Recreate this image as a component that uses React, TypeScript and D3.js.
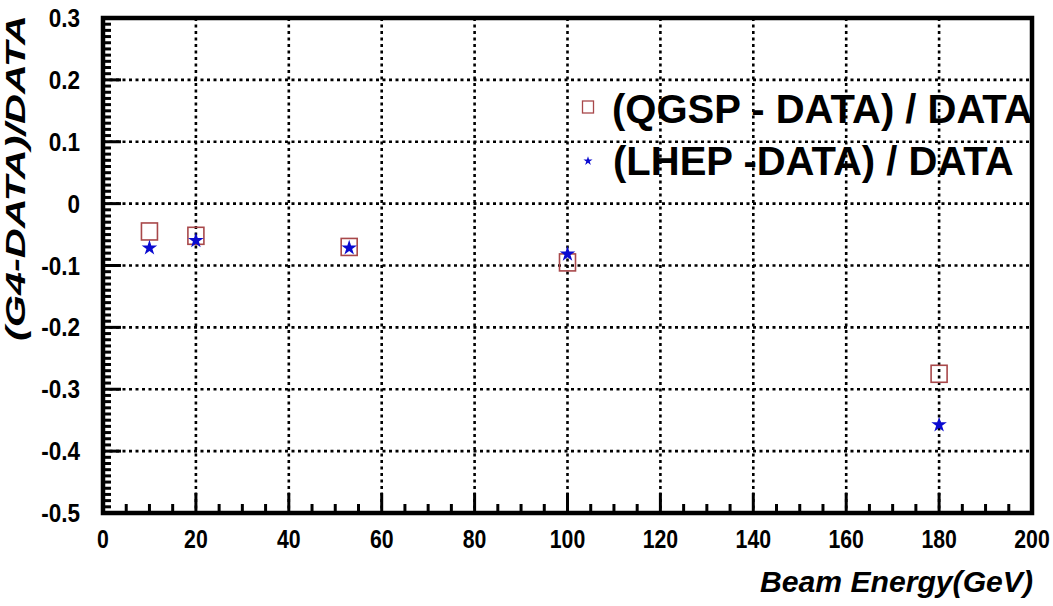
import React from "react";
import * as d3 from "d3";

const energies = [10, 20, 53, 100, 180];
const qgspValues = [-0.045, -0.052, -0.07, -0.095, -0.275];
const lhepValues = [-0.07, -0.058, -0.07, -0.08, -0.356];
const xTicks = [0, 20, 40, 60, 80, 100, 120, 140, 160, 180, 200];
const yTicks = [-0.5, -0.4, -0.3, -0.2, -0.1, 0, 0.1, 0.2, 0.3];
const legendLabels = ["(QGSP - DATA) / DATA", "(LHEP -DATA) / DATA"];
const xTitle = "Beam Energy(GeV)";
const yTitle = "(G4-DATA)/DATA";

const W = 1053;
const H = 606;
const FONT = "'Liberation Sans', Arial, Helvetica, sans-serif";
const SQ_COLOR = "#a8484a";
const STAR_COLOR = "#0a0ad0";

export default function App() {
  const left = 103, right = 1032, top = 18, bottom = 513;
  const x = d3.scaleLinear().domain([0, 200]).range([left, right]);
  const y = d3.scaleLinear().domain([-0.5, 0.3]).range([bottom, top]);

  const xMinor = d3.range(0, 200.001, 5);
  const yMinor = d3.range(-0.5, 0.3001, 0.01);
  const isMajorX = (v: number) => Math.abs(v / 20 - Math.round(v / 20)) < 1e-6;
  const isMajorY = (v: number) => Math.abs(v / 0.1 - Math.round(v / 0.1)) < 1e-6;

  const star = d3.symbol().type(d3.symbolStar).size(75)();
  const starLegend = d3.symbol().type(d3.symbolStar).size(26)();
  const fmtY = (v: number) => (Math.abs(v) < 1e-9 ? "0" : v.toFixed(1));

  return (
    <svg
      width={W}
      height={H}
      style={{ position: "absolute", left: 0, top: 0, background: "#fff" }}
      fontFamily={FONT}
    >
      <rect x={0} y={0} width={W} height={H} fill="#fff" />
      {/* grid */}
      <g stroke="#000" strokeWidth={2.6} strokeDasharray="3 3.5">
        {xTicks.filter((v) => v > 0 && v < 200).map((v) => (
          <line key={"gx" + v} x1={x(v)} x2={x(v)} y1={top} y2={bottom} />
        ))}
        {yTicks.filter((v) => v > -0.5 && v < 0.3).map((v) => (
          <line key={"gy" + v} x1={left} x2={right} y1={y(v)} y2={y(v)} />
        ))}
      </g>

      {/* QGSP squares */}
      <g fill="none" stroke={SQ_COLOR} strokeWidth={1.6}>
        {energies.map((e, i) => (
          <rect key={"q" + i} x={x(e) - 8} y={y(qgspValues[i]) - 8.5} width={16} height={17} />
        ))}
      </g>
      {/* LHEP stars */}
      <g fill={STAR_COLOR}>
        {energies.map((e, i) => (
          <path key={"l" + i} d={star as string} transform={`translate(${x(e)},${y(lhepValues[i]) + 1})`} />
        ))}
      </g>

      {/* legend */}
      <rect x={582.5} y={101} width={11} height={12} fill="none" stroke={SQ_COLOR} strokeWidth={1.3} />
      <path d={starLegend as string} fill={STAR_COLOR} transform="translate(588,161)" />
      <text x={612} y={123} fontSize={40} fontWeight="bold">
        {legendLabels[0]}
      </text>
      <text x={613} y={175} fontSize={40} fontWeight="bold">
        {legendLabels[1]}
      </text>

      {/* ticks */}
      <g stroke="#000" strokeWidth={3}>
        {xMinor.map((v) => (
          <line key={"tx" + v} x1={x(v)} x2={x(v)} y1={bottom} y2={bottom - (isMajorX(v) ? 20 : 9)} />
        ))}
        {yMinor.map((v) => (
          <line key={"ty" + v.toFixed(3)} x1={left} x2={left + (isMajorY(v) ? 18 : 8)} y1={y(v)} y2={y(v)} />
        ))}
      </g>

      {/* frame */}
      <rect x={left} y={top} width={right - left} height={bottom - top} fill="none" stroke="#000" strokeWidth={4.5} />

      {/* tick labels */}
      <g fontSize={25} fontWeight="bold" fill="#000">
        {xTicks.map((v) => (
          <text key={"lx" + v} transform={`translate(${x(v)},548) scale(0.85,1)`} textAnchor="middle">
            {v}
          </text>
        ))}
        {yTicks.map((v) => (
          <text key={"ly" + v} transform={`translate(80,${y(v) + 9}) scale(0.9,1)`} textAnchor="end">
            {fmtY(v)}
          </text>
        ))}
      </g>

      {/* axis titles */}
      <text
        x={1033}
        y={592}
        textAnchor="end"
        fontSize={29}
        fontWeight="bold"
        fontStyle="italic"
        textLength={273}
        lengthAdjust="spacingAndGlyphs"
      >
        {xTitle}
      </text>
      <text
        transform="translate(25,178) rotate(-90)"
        textAnchor="middle"
        fontSize={28}
        fontWeight="bold"
        fontStyle="italic"
        textLength={326}
        lengthAdjust="spacingAndGlyphs"
      >
        {yTitle}
      </text>
    </svg>
  );
}
